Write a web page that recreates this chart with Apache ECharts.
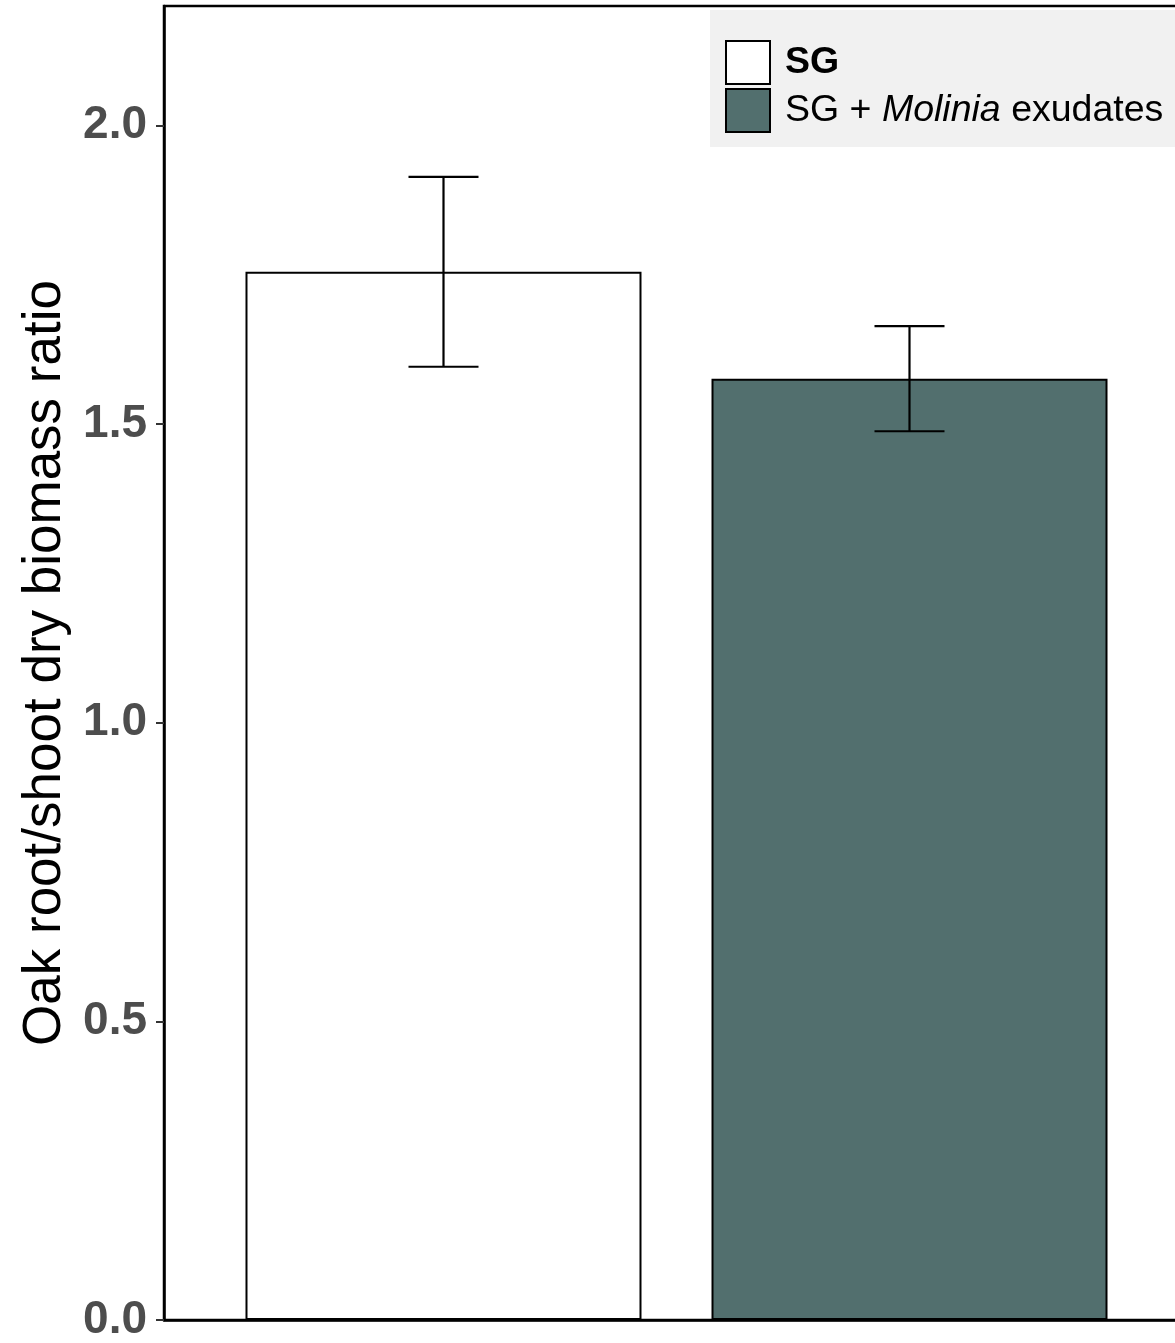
<!DOCTYPE html>
<html>
<head>
<meta charset="utf-8">
<script src="https://cdn.jsdelivr.net/npm/echarts@6/dist/echarts.min.js"></script>
<style>
html,body{margin:0;padding:0;background:#fff;}
#chart{width:1175px;height:1343px;}
</style>
</head>
<body>
<div id="chart"></div>
<script>
const categories = ['Oak'];
const seriesNames = ['SG', 'SG + Molinia exudates'];
const means = [1.755, 1.576];
const errors = [0.159, 0.088];
const yTicks = [0, 0.5, 1.0, 1.5, 2.0];
const fills = ['#ffffff', '#526f6e'];

const FONT = 'Liberation Sans, Arial, Helvetica, sans-serif';
const BAR_W = 396, GAP = 70, CAP = 35;

const chart = echarts.init(document.getElementById('chart'), null, {renderer: 'canvas'});

const barSeries = seriesNames.map((name, i) => ({
  name: name,
  type: 'bar',
  data: [means[i]],
  barWidth: BAR_W,
  barGap: (GAP / BAR_W * 100).toFixed(2) + '%',
  itemStyle: {color: fills[i], borderColor: '#000', borderWidth: 2},
  z: 2
}));

const errData = seriesNames.map((name, i) => [0, means[i] - errors[i], means[i] + errors[i], i, means[i]]);

const option = {
  animation: false,
  backgroundColor: '#ffffff',
  grid: {left: 164, top: 6, bottom: 23, width: 1025, outerBoundsMode: 'none', containLabel: false,
         show: true, borderColor: '#000', borderWidth: 2.5, backgroundColor: 'transparent'},
  legend: {
    orient: 'vertical',
    left: 710, top: 10,
    padding: [30, 40, 14, 15],
    backgroundColor: '#f1f1f1',
    itemWidth: 44, itemHeight: 43, itemGap: 3,
    icon: 'rect',
    data: seriesNames,
    formatter: function (n) {
      if (n === 'SG') return '{b|SG}';
      return '{n|SG + }{i|Molinia}{n| exudates}';
    },
    textStyle: {
      fontFamily: FONT, fontSize: 37.5, color: '#000', padding: [0, 0, 0, 10],
      rich: {
        b: {fontFamily: FONT, fontSize: 37.5, fontWeight: 'bold', color: '#000'},
        n: {fontFamily: FONT, fontSize: 37.5, color: '#000'},
        i: {fontFamily: FONT, fontSize: 37.5, fontStyle: 'italic', color: '#000'}
      }
    }
  },
  xAxis: {
    type: 'category',
    data: categories,
    axisLine: {show: true, lineStyle: {color: '#000', width: 2.5}},
    axisTick: {show: false},
    axisLabel: {show: false},
    splitLine: {show: false}
  },
  yAxis: {
    type: 'value',
    min: 0, max: 2.2,
    name: 'Oak root/shoot dry biomass ratio',
    nameLocation: 'middle',
    nameGap: 87,
    nameTextStyle: {fontFamily: FONT, fontSize: 53, color: '#000'},
    axisLine: {show: true, lineStyle: {color: '#000', width: 2.5}},
    axisTick: {show: true, length: 8, lineStyle: {color: '#333', width: 2}, customValues: yTicks},
    axisLabel: {
      customValues: yTicks,
      fontFamily: FONT, fontSize: 46, fontWeight: 'bold', color: '#4d4d4d', margin: 17,
      formatter: v => v.toFixed(1)
    },
    splitLine: {show: false}
  },
  series: barSeries.concat([{
    type: 'custom',
    name: 'err',
    data: errData,
    z: 5,
    renderItem: function (params, api) {
      const si = api.value(3);
      const lo = api.coord([api.value(0), api.value(1)]);
      const hi = api.coord([api.value(0), api.value(2)]);
      const off = (si === 0 ? -1 : 1) * (BAR_W + GAP) / 2;
      const x = lo[0] + off;
      const st = {stroke: '#000', lineWidth: 2.2};
      return {
        type: 'group',
        children: [
          {type: 'line', shape: {x1: x, y1: lo[1], x2: x, y2: hi[1]}, style: st},
          {type: 'line', shape: {x1: x - CAP, y1: lo[1], x2: x + CAP, y2: lo[1]}, style: st},
          {type: 'line', shape: {x1: x - CAP, y1: hi[1], x2: x + CAP, y2: hi[1]}, style: st}
        ]
      };
    }
  }])
};
chart.setOption(option);
</script>
</body>
</html>
